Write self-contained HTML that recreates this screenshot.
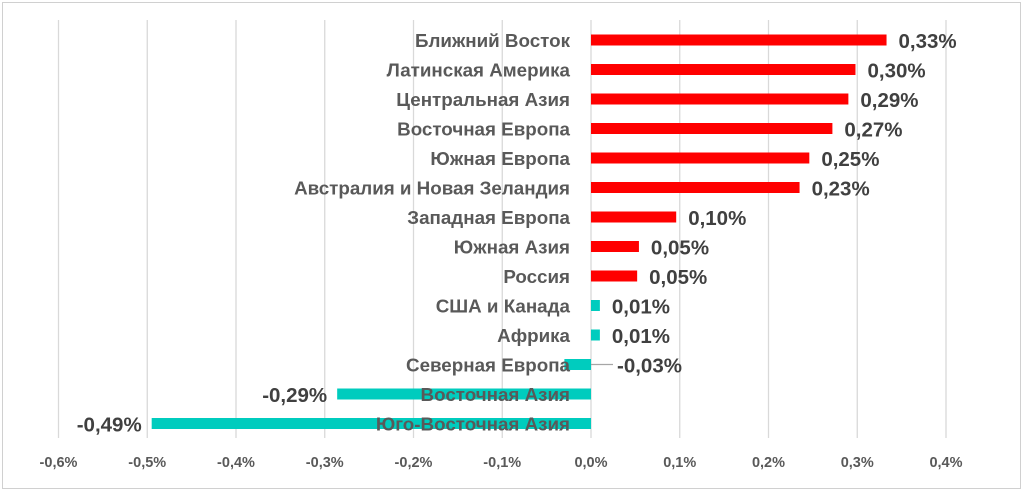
<!DOCTYPE html>
<html><head><meta charset="utf-8"><style>
body{margin:0;background:#fff;}
svg{display:block;font-family:"Liberation Sans",Arial,sans-serif;font-weight:bold;}
</style></head><body>
<svg id="c" width="1024" height="491">
<rect x="2.5" y="2.5" width="1018" height="486" fill="#fff" stroke="#d0d0d0"/>
<g id="grid"></g><g id="bars"></g><g id="labels"></g>
</svg>
<script>
const categories=["Ближний Восток","Латинская Америка","Центральная Азия","Восточная Европа","Южная Европа","Австралия и Новая Зеландия","Западная Европа","Южная Азия","Россия","США и Канада","Африка","Северная Европа","Восточная Азия","Юго-Восточная Азия"];
const values=[0.333,0.298,0.29,0.272,0.246,0.235,0.096,0.054,0.052,0.01,0.01,-0.03,-0.286,-0.495];
const valueLabels=["0,33%","0,30%","0,29%","0,27%","0,25%","0,23%","0,10%","0,05%","0,05%","0,01%","0,01%","-0,03%","-0,29%","-0,49%"];
const ticks=[-0.6,-0.5,-0.4,-0.3,-0.2,-0.1,0,0.1,0.2,0.3,0.4];
const tickLabels=["-0,6%","-0,5%","-0,4%","-0,3%","-0,2%","-0,1%","0,0%","0,1%","0,2%","0,3%","0,4%"];
const NS="http://www.w3.org/2000/svg";
const x=v=>591+v*887.5;
const y=i=>40+i*29.5;
function mk(tag,attrs,parent,text){const e=document.createElementNS(NS,tag);for(const k in attrs)e.setAttribute(k,attrs[k]);if(text!==undefined)e.textContent=text;document.getElementById(parent).appendChild(e);return e;}
ticks.forEach((t,i)=>{
 const g=mk('line',{x1:x(t),x2:x(t),y1:20,y2:438,stroke:'#d9d9d9','stroke-width':1.3},'grid');
 
 
 const l=mk('text',{x:x(t),y:467,'text-anchor':'middle','font-size':14.5,fill:'#595959'},'grid',tickLabels[i]);
 
 
});
values.forEach((v,i)=>{
 const col=v>=0.04?'#ff0000':'#00ccbe';
 const b=mk('rect',{x:Math.min(x(0),x(v)),y:y(i)-5.5,width:Math.abs(x(v)-x(0)),height:11,fill:col},'bars');
 
 
 const c=mk('text',{x:570,y:y(i)+7,'text-anchor':'end','font-size':18.8,fill:'#595959'},'labels',categories[i]);
 
 
 let lx,anchor='start';
 if(v>=0){lx=x(v)+12;}
 else if(v>-0.1){lx=x(0)+26;mk('line',{x1:x(0),x2:x(0)+22,y1:y(i),y2:y(i),stroke:'#a6a6a6','stroke-width':1.3},'labels');}
 else {lx=x(v)-10;anchor='end';}
 const t=mk('text',{x:lx,y:y(i)+8,'text-anchor':anchor,'font-size':20.5,fill:'#404040'},'labels',valueLabels[i]);
 
 
});
</script>
</body></html>
